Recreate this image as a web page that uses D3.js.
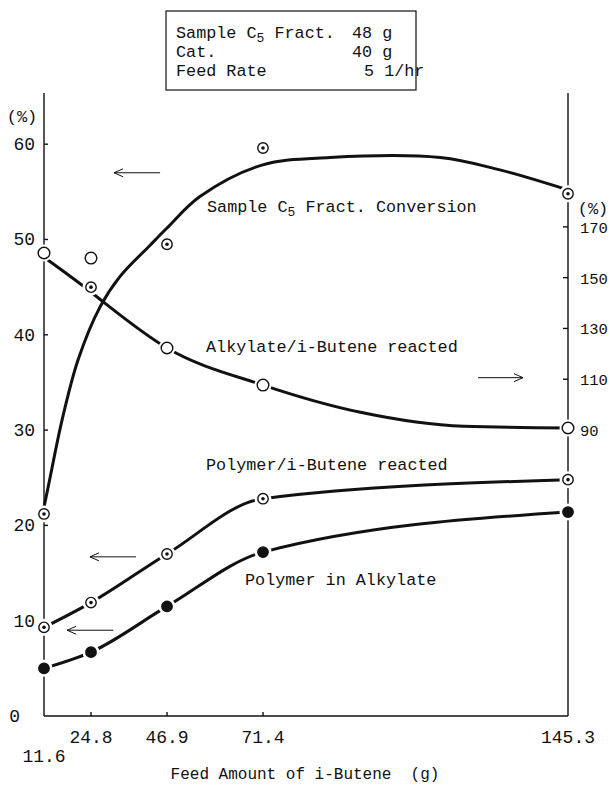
<!DOCTYPE html>
<html>
<head>
<meta charset="utf-8">
<script src="https://cdn.jsdelivr.net/npm/d3@7"></script>
<style>
  body { margin: 0; background: #fff; }
  text { font-family: "Liberation Mono", "DejaVu Sans Mono", monospace; fill: #111; }
</style>
</head>
<body>
<div id="chart"></div>
<script>
var width = 610,
    height = 787;

// x ticks (feed amount of i-butene, g)
var xTicks = [11.6, 24.8, 46.9, 71.4, 145.3];
var leftTicks = [0, 10, 20, 30, 40, 50, 60];
var rightTicks = [90, 110, 130, 150, 170];

// measured points
var convPts = [21.2, 45.0, 49.5, 59.6, 54.8];          // left axis, dotted circles
var alkPts = [159.7, 157.7, 122.3, 107.7, 90.8];        // right axis, open circles
var polyReactPts = [9.3, 11.9, 17.0, 22.8, 24.8];       // left axis, dotted circles
var polyAlkPts = [5.0, 6.7, 11.5, 17.2, 21.4];          // left axis, filled

// hand drawn curves
var convCurveX = [11.6, 13.3, 16.7, 21.2, 27.4, 33.2, 42.0, 46.9, 55.3, 71.1, 87.6, 114.3, 128.8, 145.3];
var convCurveY = [21.9, 25.0, 31.1, 37.4, 42.9, 46.1, 49.4, 51.2, 54.5, 57.8, 58.6, 58.6, 57.3, 55.2];
var alkCurveX = [11.6, 24.8, 27.4, 46.9, 71.4, 95, 120, 145.3];
var alkCurveY = [158.0, 144.3, 141.5, 122.3, 107.7, 97.0, 91.5, 90.8];

var svg = d3.select("#chart")
    .append("svg")
    .attr("width", width)
    .attr("height", height);

var plotTop = 93, plotBottom = 716;

// the original x axis is not evenly spaced, so use a polylinear scale
var x = d3.scaleLinear()
    .domain(xTicks)
    .range([44, 91, 167, 263, 568]);

var yL = d3.scaleLinear().domain([0, 65.37]).range([plotBottom, plotTop]);
var yR = d3.scaleLinear().domain([-22.6, 222.7]).range([plotBottom, plotTop]);

// axes lines
var axisG = svg.append("g").attr("stroke", "#111").attr("stroke-width", 1.4);
axisG.append("line").attr("x1", x(11.6)).attr("x2", x(11.6)).attr("y1", plotTop).attr("y2", plotBottom);
axisG.append("line").attr("x1", x(145.3)).attr("x2", x(145.3)).attr("y1", plotTop).attr("y2", plotBottom);
axisG.append("line").attr("x1", x(11.6)).attr("x2", x(145.3)).attr("y1", plotBottom).attr("y2", plotBottom);

// left ticks
axisG.selectAll(".lt").data(leftTicks.slice(1)).enter().append("line")
    .attr("x1", x(11.6)).attr("x2", x(11.6) + 4)
    .attr("y1", function(d) { return yL(d); }).attr("y2", function(d) { return yL(d); });
svg.selectAll(".ltl").data(leftTicks).enter().append("text")
    .attr("x", function(d) { return d == 0 ? 20 : 35; })
    .attr("y", function(d) { return yL(d) + 6; })
    .attr("text-anchor", "end")
    .attr("font-size", 18)
    .text(function(d) { return d; });

// right ticks
axisG.selectAll(".rt").data(rightTicks).enter().append("line")
    .attr("x1", x(145.3) - 5).attr("x2", x(145.3))
    .attr("y1", function(d) { return yR(d); }).attr("y2", function(d) { return yR(d); });
svg.selectAll(".rtl").data(rightTicks).enter().append("text")
    .attr("x", 580)
    .attr("y", function(d) { return yR(d) + 6; })
    .attr("font-size", 15.5)
    .text(function(d) { return d; });

// bottom ticks
axisG.selectAll(".bt").data(xTicks.slice(1, 4)).enter().append("line")
    .attr("x1", function(d) { return x(d); }).attr("x2", function(d) { return x(d); })
    .attr("y1", plotBottom).attr("y2", plotBottom - 4);
svg.selectAll(".btl").data(xTicks).enter().append("text")
    .attr("x", function(d) { return x(d); })
    .attr("y", function(d, i) { return i == 0 ? 762 : 743; })
    .attr("text-anchor", "middle")
    .attr("font-size", 18)
    .text(function(d) { return d; });

svg.append("text").attr("x", 22).attr("y", 122).attr("text-anchor", "middle").attr("font-size", 17).text("(%)");
svg.append("text").attr("x", 593).attr("y", 214).attr("text-anchor", "middle").attr("font-size", 17).text("(%)");

svg.append("text").attr("x", 305).attr("y", 779).attr("text-anchor", "middle")
    .attr("font-size", 16).attr("xml:space", "preserve")
    .text("Feed Amount of i-Butene  (g)");

// curves
var lineL = d3.line().x(function(d) { return x(d[0]); }).y(function(d) { return yL(d[1]); }).curve(d3.curveMonotoneX);
var lineR = d3.line().x(function(d) { return x(d[0]); }).y(function(d) { return yR(d[1]); }).curve(d3.curveMonotoneX);
var lineSmooth = d3.line().x(function(d) { return x(d[0]); }).y(function(d) { return yL(d[1]); }).curve(d3.curveCatmullRom.alpha(0.5));

var curves = svg.append("g").attr("fill", "none").attr("stroke", "#111").attr("stroke-width", 3).attr("stroke-linecap", "round");
curves.append("path").attr("d", lineSmooth(d3.zip(convCurveX, convCurveY)));
curves.append("path").attr("d", lineR(d3.zip(alkCurveX, alkCurveY)));
curves.append("path").attr("d", lineL(d3.zip(xTicks, polyReactPts)));
curves.append("path").attr("d", lineL(d3.zip(xTicks, polyAlkPts)));

// markers, with a white halo to leave the small gap
function markers(vals, yScale, kind) {
    var g = svg.append("g");
    var pts = d3.zip(xTicks, vals);
    g.selectAll(".halo").data(pts).enter().append("circle")
        .attr("cx", function(d) { return x(d[0]); })
        .attr("cy", function(d) { return yScale(d[1]); })
        .attr("r", 8.5).attr("fill", "#fff");
    g.selectAll(".m").data(pts).enter().append("circle")
        .attr("cx", function(d) { return x(d[0]); })
        .attr("cy", function(d) { return yScale(d[1]); })
        .attr("r", kind == "open" ? 5.8 : 5.2)
        .attr("fill", kind == "filled" ? "#111" : "#fff")
        .attr("stroke", "#111").attr("stroke-width", 1.4);
    if (kind == "dot") {
        g.selectAll(".d").data(pts).enter().append("circle")
            .attr("cx", function(d) { return x(d[0]); })
            .attr("cy", function(d) { return yScale(d[1]); })
            .attr("r", 1.8).attr("fill", "#111");
    }
}
markers(alkPts, yR, "open");
markers(polyReactPts, yL, "dot");
markers(polyAlkPts, yL, "filled");
markers(convPts, yL, "dot");

// arrows, in left-axis data units
var arrows = [
    {from: 44.9, to: 31.5, y: 57.0},
    {from: 123.5, to: 134.4, y: 35.5},
    {from: 37.9, to: 24.5, y: 16.7},
    {from: 31.3, to: 18.1, y: 9.0}
];
svg.append("g").attr("fill", "none").attr("stroke", "#111").attr("stroke-width", 1)
    .selectAll("path").data(arrows).enter().append("path")
    .attr("d", function(d) {
        var x1 = x(d.from), x2 = x(d.to), yy = yL(d.y);
        var s = x2 > x1 ? -1 : 1;
        return "M" + x1 + "," + yy + "L" + x2 + "," + yy +
               "M" + (x2 + s * 9) + "," + (yy - 4) + "L" + x2 + "," + yy + "L" + (x2 + s * 9) + "," + (yy + 4);
    });

// curve labels
function label(tx, ty, parts) {
    var t = svg.append("text").attr("x", tx).attr("y", ty).attr("font-size", 16.8).attr("xml:space", "preserve");
    var shift = 0;
    parts.forEach(function(p) {
        if (p.sub) {
            t.append("tspan").attr("dy", 4).attr("font-size", 13).text(p.sub);
            shift = -4;
        } else {
            t.append("tspan").attr("dy", shift).text(p.t);
            shift = 0;
        }
    });
    return t;
}
label(207, 212, [{t: "Sample C"}, {sub: "5"}, {t: " Fract. Conversion"}]);
label(206, 352, [{t: "Alkylate/i-Butene reacted"}]);
label(206, 470, [{t: "Polymer/i-Butene reacted"}]);
label(245, 585, [{t: "Polymer in Alkylate"}]);

// conditions box
svg.append("rect").attr("x", 166).attr("y", 11).attr("width", 250).attr("height", 79)
    .attr("fill", "none").attr("stroke", "#111").attr("stroke-width", 1.2);
label(176, 38, [{t: "Sample C"}, {sub: "5"}, {t: " Fract."}]);
label(176, 57, [{t: "Cat."}]);
label(176, 76, [{t: "Feed Rate"}]);
label(352, 38, [{t: "48 g"}]);
label(352, 57, [{t: "40 g"}]);
label(364, 76, [{t: "5 1/hr"}]);
</script>
</body>
</html>
